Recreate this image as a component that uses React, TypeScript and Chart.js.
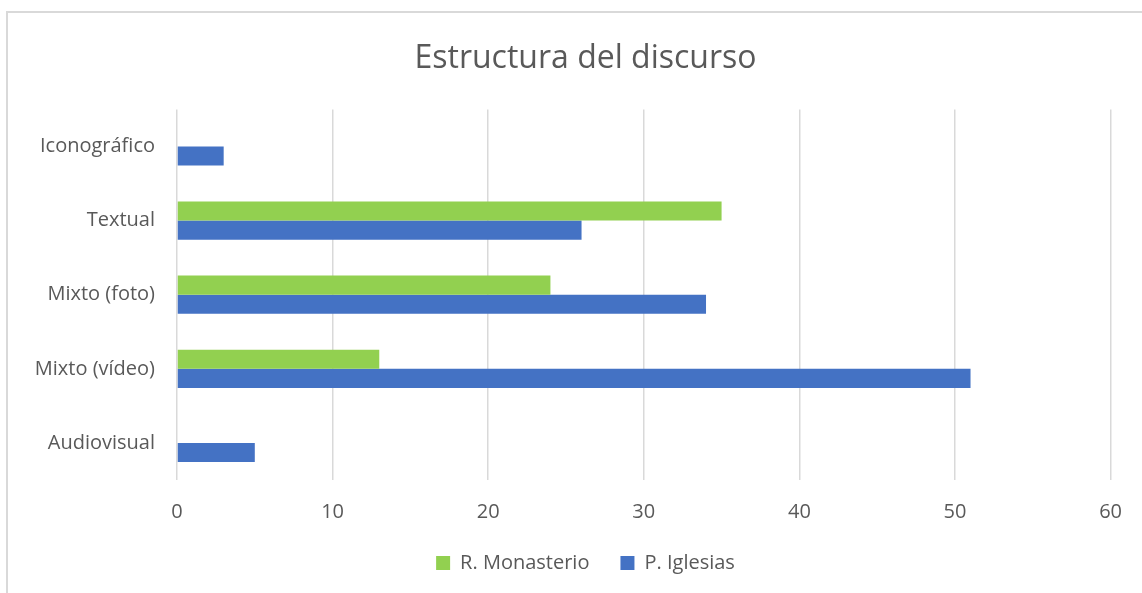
import React, { useEffect, useRef } from "react";
import { Chart, registerables } from "chart.js";

Chart.register(...registerables);

const categories = ["Iconográfico", "Textual", "Mixto (foto)", "Mixto (vídeo)", "Audiovisual"];
const monasterioValues = [0, 35, 24, 13, 0];
const iglesiasValues = [3, 26, 34, 51, 5];
const seriesNames = ["R. Monasterio", "P. Iglesias"];
const titleText = "Estructura del discurso";
const xMin = 0;
const xMax = 60;
const xStep = 10;

const FONT = "'Open Sans', 'Noto Sans', sans-serif";
const TEXT = "#595959";

export default function App() {
  const ref = useRef<HTMLCanvasElement | null>(null);

  useEffect(() => {
    if (!ref.current) return;
    const chart = new Chart(ref.current, {
      type: "bar",
      data: {
        labels: categories,
        datasets: [
          {
            label: seriesNames[0],
            data: monasterioValues,
            backgroundColor: "#92D050",
            borderWidth: 0,
            categoryPercentage: 0.516,
            barPercentage: 1,
          },
          {
            label: seriesNames[1],
            data: iglesiasValues,
            backgroundColor: "#4472C4",
            borderWidth: 0,
            categoryPercentage: 0.516,
            barPercentage: 1,
          },
        ],
      },
      options: {
        indexAxis: "y",
        animation: false,
        responsive: false,
        maintainAspectRatio: false,
        layout: { padding: { top: 30, bottom: 10, left: 56, right: 27 } },
        plugins: {
          title: {
            display: true,
            text: titleText,
            color: TEXT,
            font: { family: FONT, size: 32, weight: "normal" },
            padding: { top: 10, bottom: 31 },
          },
          legend: {
            display: true,
            position: "bottom",
            labels: {
              color: TEXT,
              font: { family: FONT, size: 20 },
              boxWidth: 14,
              boxHeight: 14,
              padding: 31,
            },
          },
          tooltip: { enabled: false },
        },
        scales: {
          x: {
            min: xMin,
            max: xMax,
            ticks: {
              stepSize: xStep,
              color: TEXT,
              font: { family: FONT, size: 20 },
              padding: 20,
            },
            grid: { color: "#D9D9D9", lineWidth: 1.5, drawTicks: false },
            border: { display: false },
            afterFit: (scale: any) => {
              scale._computeLabelArea = () => undefined;
              scale.height = scale.height - 22;
            },
          },
          y: {
            ticks: {
              color: TEXT,
              font: { family: FONT, size: 20 },
              padding: 22,
            },
            grid: { display: false, drawTicks: false },
            border: { display: false },
            afterFit: (scale: any) => {
              scale._computeLabelArea = () => undefined;
              scale.width = 121;
            },
          },
        },
      },
    });
    return () => chart.destroy();
  }, []);

  return (
    <div style={{ position: "fixed", left: 0, top: 0, width: 1142, height: 593, overflow: "hidden", background: "#fff" }}>
      <canvas ref={ref} width={1142} height={593} style={{ position: "absolute", left: 0, top: 0, width: 1142, height: 593 }} />
      <div
        style={{
          position: "absolute",
          left: 6,
          top: 11,
          width: 1300,
          height: 800,
          borderLeft: "2px solid #D9D9D9",
          borderTop: "2px solid #D9D9D9",
          pointerEvents: "none",
        }}
      />
    </div>
  );
}
